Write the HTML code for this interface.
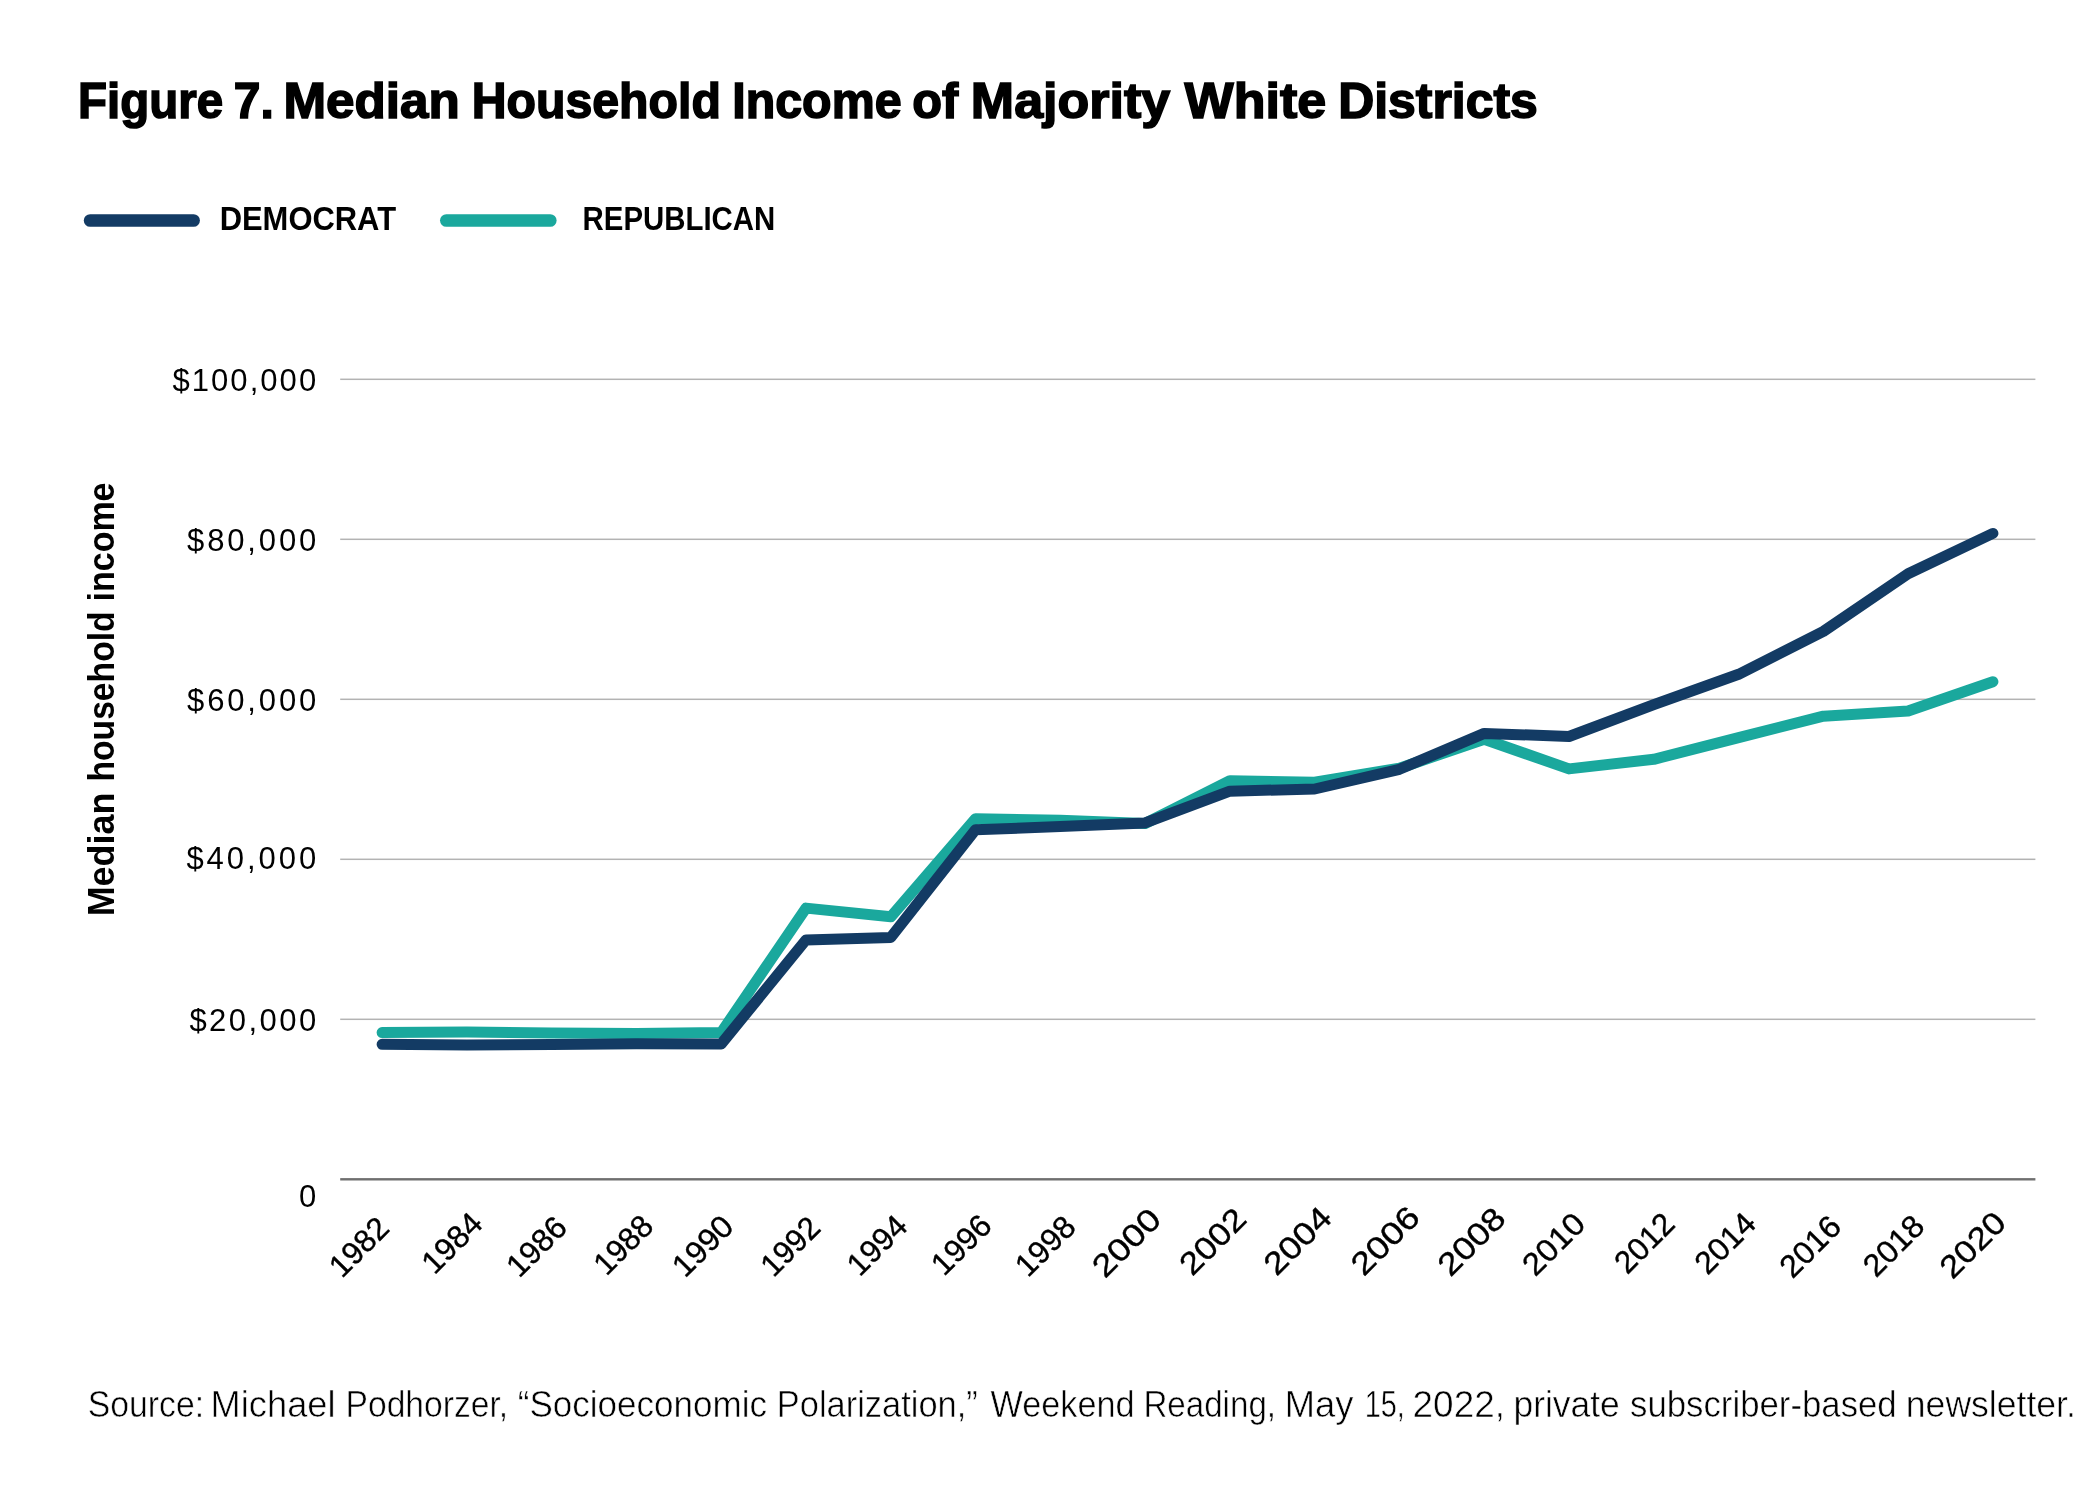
<!DOCTYPE html>
<html lang="en">
<head>
<meta charset="utf-8">
<title>Figure 7. Median Household Income of Majority White Districts</title>
<style>
html,body{margin:0;padding:0;background:#ffffff;}
body{width:2084px;height:1510px;overflow:hidden;}
svg{display:block;will-change:transform;}
text{font-family:"Liberation Sans",sans-serif;fill:#000000;}
.b{font-weight:bold;}
.s{stroke:#ffffff;stroke-width:0.55px;}
.x{stroke:#000000;stroke-width:0.4px;}
.t{stroke:#000000;stroke-width:1.6px;stroke-linejoin:miter;}
</style>
</head>
<body>
<svg width="2084" height="1510" viewBox="0 0 2084 1510">
<rect x="0" y="0" width="2084" height="1510" fill="#ffffff"/>
<text class="b t" transform="translate(78.07,118.3) scale(0.9359,1)" font-size="50.7">Figure</text>
<text class="b t" transform="translate(233.75,118.3) scale(0.9462,1)" font-size="50.7">7.</text>
<text class="b t" transform="translate(283.48,118.3) scale(1.0097,1)" font-size="50.7">Median</text>
<text class="b t" transform="translate(471.73,118.3) scale(0.9514,1)" font-size="50.7">Household</text>
<text class="b t" transform="translate(732.22,118.3) scale(0.9541,1)" font-size="50.7">Income</text>
<text class="b t" transform="translate(912.14,118.3) scale(0.9625,1)" font-size="50.7">of</text>
<text class="b t" transform="translate(970.84,118.3) scale(1.0258,1)" font-size="50.7">Majority</text>
<text class="b t" transform="translate(1184.53,118.3) scale(1.0268,1)" font-size="50.7">White</text>
<text class="b t" transform="translate(1338.14,118.3) scale(0.9849,1)" font-size="50.7">Districts</text>
<line x1="90.1" y1="220.5" x2="193.6" y2="220.5" stroke="#133b64" stroke-width="12.6" stroke-linecap="round"/>
<line x1="446.3" y1="220.5" x2="550.3" y2="220.5" stroke="#1aa89d" stroke-width="12.6" stroke-linecap="round"/>
<text class="b" transform="translate(219.66,229.7) scale(0.9376,1)" font-size="33.0">DEMOCRAT</text>
<text class="b" transform="translate(582.55,229.7) scale(0.8908,1)" font-size="33.0">REPUBLICAN</text>
<rect x="340.2" y="378.55" width="1695.2" height="1.5" fill="#b3b3b3"/>
<rect x="340.2" y="538.55" width="1695.2" height="1.5" fill="#b3b3b3"/>
<rect x="340.2" y="698.55" width="1695.2" height="1.5" fill="#b3b3b3"/>
<rect x="340.2" y="858.55" width="1695.2" height="1.5" fill="#b3b3b3"/>
<rect x="340.2" y="1018.55" width="1695.2" height="1.5" fill="#b3b3b3"/>
<rect x="340.2" y="1178.1" width="1695.2" height="2.4" fill="#6f6f6f"/>
<text x="318.2" y="391.0" font-size="31.0" text-anchor="end" letter-spacing="2.05">$100,000</text>
<text x="319.1" y="551.0" font-size="31.0" text-anchor="end" letter-spacing="2.85">$80,000</text>
<text x="319.1" y="711.0" font-size="31.0" text-anchor="end" letter-spacing="2.85">$60,000</text>
<text x="319.1" y="868.9" font-size="31.0" text-anchor="end" letter-spacing="2.95">$40,000</text>
<text x="318.6" y="1031.0" font-size="31.0" text-anchor="end" letter-spacing="2.45">$20,000</text>
<text x="316.2" y="1206.5" font-size="31.0" text-anchor="end">0</text>
<text class="b" transform="translate(114.1,916.36) rotate(-90) scale(0.9827,1)" font-size="36.6">Median</text>
<text class="b" transform="translate(114.1,781.57) rotate(-90) scale(0.9206,1)" font-size="36.6">household</text>
<text class="b" transform="translate(114.1,601.49) rotate(-90) scale(0.9293,1)" font-size="36.6">income</text>
<polyline points="382.1,1032.5 466.9,1031.9 551.7,1033.1 636.4,1033.6 721.2,1032.6 806.0,908.1 890.8,916.8 975.6,818.7 1060.3,820.2 1145.1,823.5 1229.9,780.7 1314.7,782.2 1399.5,768.2 1484.2,739.2 1569.0,768.9 1653.8,759.3 1738.6,737.6 1823.4,716.2 1908.1,711.0 1992.9,681.7" fill="none" stroke="#1aa89d" stroke-width="11" stroke-linecap="round" stroke-linejoin="round"/>
<polyline points="382.1,1044.3 466.9,1045.0 551.7,1044.4 636.4,1043.7 721.2,1044.0 806.0,939.9 890.8,937.4 975.6,829.7 1060.3,826.6 1145.1,822.9 1229.9,791.2 1314.7,789.0 1399.5,769.3 1484.2,733.4 1569.0,736.5 1653.8,704.7 1738.6,674.3 1823.4,631.4 1908.1,573.7 1992.9,533.4" fill="none" stroke="#133b64" stroke-width="11" stroke-linecap="round" stroke-linejoin="round"/>
<text class="x" transform="translate(391.1,1230.0) rotate(-45) scale(0.989,1)" x="0" y="0" font-size="31.5" text-anchor="end">1982</text>
<text class="x" transform="translate(484.4,1225.5) rotate(-45) scale(1.008,1)" x="0" y="0" font-size="31.5" text-anchor="end">1984</text>
<text class="x" transform="translate(568.9,1229.3) rotate(-45) scale(1.000,1)" x="0" y="0" font-size="31.5" text-anchor="end">1986</text>
<text class="x" transform="translate(655.2,1228.0) rotate(-45) scale(0.985,1)" x="0" y="0" font-size="31.5" text-anchor="end">1988</text>
<text class="x" transform="translate(735.5,1228.3) rotate(-45) scale(1.019,1)" x="0" y="0" font-size="31.5" text-anchor="end">1990</text>
<text class="x" transform="translate(822.2,1229.5) rotate(-45) scale(0.985,1)" x="0" y="0" font-size="31.5" text-anchor="end">1992</text>
<text class="x" transform="translate(909.3,1228.0) rotate(-45) scale(0.999,1)" x="0" y="0" font-size="31.5" text-anchor="end">1994</text>
<text class="x" transform="translate(993.6,1227.5) rotate(-45) scale(0.999,1)" x="0" y="0" font-size="31.5" text-anchor="end">1996</text>
<text class="x" transform="translate(1077.6,1228.8) rotate(-45) scale(0.999,1)" x="0" y="0" font-size="31.5" text-anchor="end">1998</text>
<text class="x" transform="translate(1163.0,1221.2) rotate(-45) scale(1.172,1)" x="0" y="0" font-size="31.5" text-anchor="end">2000</text>
<text class="x" transform="translate(1248.3,1221.0) rotate(-45) scale(1.130,1)" x="0" y="0" font-size="31.5" text-anchor="end">2002</text>
<text class="x" transform="translate(1333.8,1219.7) rotate(-45) scale(1.158,1)" x="0" y="0" font-size="31.5" text-anchor="end">2004</text>
<text class="x" transform="translate(1421.8,1219.2) rotate(-45) scale(1.172,1)" x="0" y="0" font-size="31.5" text-anchor="end">2006</text>
<text class="x" transform="translate(1507.6,1220.5) rotate(-45) scale(1.154,1)" x="0" y="0" font-size="31.5" text-anchor="end">2008</text>
<text class="x" transform="translate(1587.1,1225.7) rotate(-45) scale(1.046,1)" x="0" y="0" font-size="31.5" text-anchor="end">2010</text>
<text class="x" transform="translate(1676.7,1225.9) rotate(-45) scale(0.996,1)" x="0" y="0" font-size="31.5" text-anchor="end">2012</text>
<text class="x" transform="translate(1757.9,1225.4) rotate(-45) scale(1.020,1)" x="0" y="0" font-size="31.5" text-anchor="end">2014</text>
<text class="x" transform="translate(1843.2,1228.7) rotate(-45) scale(1.023,1)" x="0" y="0" font-size="31.5" text-anchor="end">2016</text>
<text class="x" transform="translate(1926.5,1228.0) rotate(-45) scale(1.019,1)" x="0" y="0" font-size="31.5" text-anchor="end">2018</text>
<text class="x" transform="translate(2008.0,1224.7) rotate(-45) scale(1.121,1)" x="0" y="0" font-size="31.5" text-anchor="end">2020</text>
<text class="s" transform="translate(87.77,1416.8) scale(0.9321,1)" font-size="36.2">Source:</text>
<text class="s" transform="translate(210.61,1416.8) scale(1.0019,1)" font-size="36.2">Michael</text>
<text class="s" transform="translate(345.52,1416.8) scale(0.9291,1)" font-size="36.2">Podhorzer,</text>
<text class="s" transform="translate(517.75,1416.8) scale(0.9681,1)" font-size="36.2">“Socioeconomic</text>
<text class="s" transform="translate(776.86,1416.8) scale(0.9509,1)" font-size="36.2">Polarization,”</text>
<text class="s" transform="translate(990.53,1416.8) scale(0.9454,1)" font-size="36.2">Weekend</text>
<text class="s" transform="translate(1143.46,1416.8) scale(0.9149,1)" font-size="36.2">Reading,</text>
<text class="s" transform="translate(1284.71,1416.8) scale(1.0039,1)" font-size="36.2">May</text>
<text class="s" transform="translate(1364.71,1416.8) scale(0.7988,1)" font-size="36.2">15,</text>
<text class="s" transform="translate(1412.6,1416.8) scale(1.0196,1)" font-size="36.2">2022,</text>
<text class="s" transform="translate(1513.45,1416.8) scale(0.9794,1)" font-size="36.2">private</text>
<text class="s" transform="translate(1630.0,1416.8) scale(0.9609,1)" font-size="36.2">subscriber-based</text>
<text class="s" transform="translate(1905.84,1416.8) scale(0.9829,1)" font-size="36.2">newsletter.</text>
</svg>
</body>
</html>
